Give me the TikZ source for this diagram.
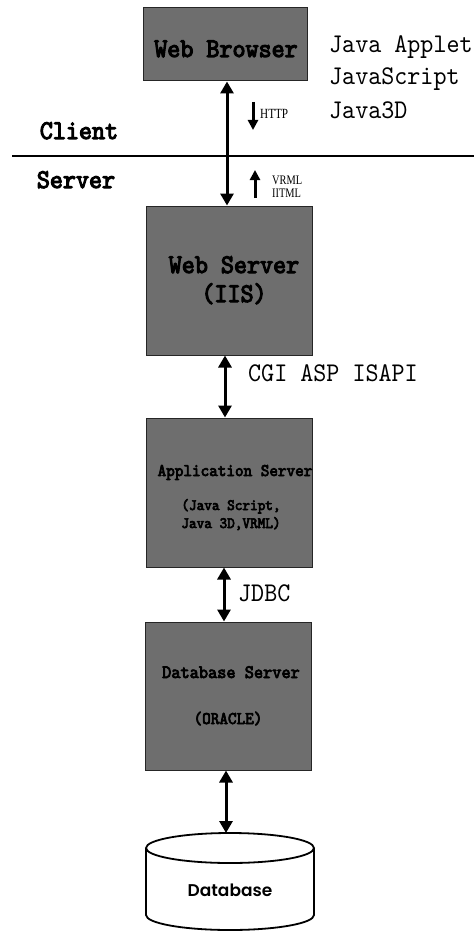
\documentclass[tikz,border=0pt]{standalone}
\usepackage{fontspec}
\usepackage{xcolor}
\usepackage{tikz}
\usetikzlibrary{arrows.meta,positioning}
\newfontfamily\monofont[Extension=.otf,FakeStretch=0.92]{lmmono10-regular}
\newfontfamily\heavyfont[Extension=.otf,FakeStretch=0.92,FakeBold=4]{lmmono10-regular}
\newfontfamily\smallfont[FakeStretch=0.8]{Liberation Serif}
\newfontfamily\roundfont{Poppins SemiBold}
\definecolor{boxgray}{RGB}{110,110,110}

\tikzset{
  tierbox/.style={draw=black!85,line width=1pt,fill=boxgray,inner sep=0pt,
                  minimum width=166pt,minimum height=149pt},
  tiertext/.style={font=\heavyfont\fontsize{27}{29}\selectfont,align=center,inner sep=0pt},
  link/.style={line width=3pt,{Triangle[width=13pt,length=12pt]}-{Triangle[width=13pt,length=12pt]}},
  flow/.style={line width=3pt,-{Triangle[width=10pt,length=10pt]}},
  note/.style={font=\monofont\fontsize{27}{29}\selectfont,inner sep=0pt},
  tiny/.style={font=\smallfont\fontsize{14}{14}\selectfont,inner sep=0pt}
}

\begin{document}
\begin{tikzpicture}[x=1pt,y=-1pt]
  \useasboundingbox (0,0) rectangle (474,931);

  % tiers
  \node[tierbox,minimum width=164pt,minimum height=73pt] (browser) at (225,44.5) {};
  \node[tierbox] (websrv) at (229,280.5) {};
  \node[tierbox] (appsrv) at (229,492.5) {};
  \node[tierbox,minimum height=148pt] (dbsrv) at (228,696) {};

  \node[tiertext,anchor=base] (browsertxt) at (226,57) {Web Browser};
  \node[tiertext,anchor=base] (webtxt) at (234,302) {Web Server\\(IIS)};
  \node[tiertext,anchor=base,font=\heavyfont\fontsize{17.8}{18}\selectfont] (apptxt) at (235,476) {Application Server};
  \node[tiertext,anchor=base,font=\heavyfont\fontsize{15.8}{18}\selectfont] (apptxtb) at (231,528) {(Java Script,\\Java 3D,VRML)};
  \node[tiertext,anchor=base,font=\heavyfont\fontsize{19}{20}\selectfont] (dbtxt) at (231,678) {Database Server};
  \node[tiertext,anchor=base,font=\heavyfont\fontsize{17.8}{20}\selectfont] (oratxt) at (228,724) {(ORACLE)};

  % database cylinder
  \draw[line width=1.8pt] (146,848) -- (146,915)
    arc[start angle=180,end angle=360,x radius=84pt,y radius=15pt] -- (314,848);
  \draw[line width=1.8pt] (230,848) ellipse [x radius=84pt,y radius=15pt];
  \node[font=\roundfont\fontsize{17}{17}\selectfont,inner sep=0pt] (db) at (230,890) {Database};
  \coordinate (dbtop) at (226,833);

  % client / server split
  \coordinate (divL) at (12,156);
  \coordinate (divR) at (474,156);
  \draw[line width=2pt] (divL) -- (divR);
  \node[tiertext,anchor=base] (client) at (79,139) {Client};
  \node[tiertext,anchor=base] (server) at (76,188) {Server};

  % links
  \draw[link] ([xshift=2pt]browser.south) -- ([xshift=2pt]browser.south |- websrv.north);
  \draw[link] ([xshift=-4pt]websrv.south) -- ([xshift=-4pt]websrv.south |- appsrv.north);
  \draw[link] ([xshift=-5pt]appsrv.south) -- ([xshift=-5pt]appsrv.south |- dbsrv.north);
  \draw[link] ([xshift=-2pt]dbsrv.south) -- (dbtop);

  % protocol notes
  \coordinate (httpA) at (253,102);
  \coordinate (httpB) at (253,130);
  \draw[flow] (httpA) -- (httpB);
  \node[tiny,anchor=west] (http) at (260,114) {HTTP};
  \coordinate (vrmlA) at (255,198);
  \coordinate (vrmlB) at (255,170);
  \draw[flow] (vrmlA) -- (vrmlB);
  \node[tiny,anchor=west,font=\smallfont\fontsize{13}{13}\selectfont] (vrml) at (272,180) {VRML};
  \node[tiny,anchor=west,font=\smallfont\fontsize{13}{13}\selectfont] (html) at (272,193) {IITML};

  \node[note,anchor=base west] (applet) at (329,53) {Java Applet};
  \node[note,anchor=base west] (jscript) at (329,85) {JavaScript};
  \node[note,anchor=base west] (j3d) at (329,118) {Java3D};
  \node[note,anchor=west] (cgi) at (248,373) {CGI ASP ISAPI};
  \node[note,anchor=west] (jdbc) at (238,593) {JDBC};
\end{tikzpicture}
\end{document}
